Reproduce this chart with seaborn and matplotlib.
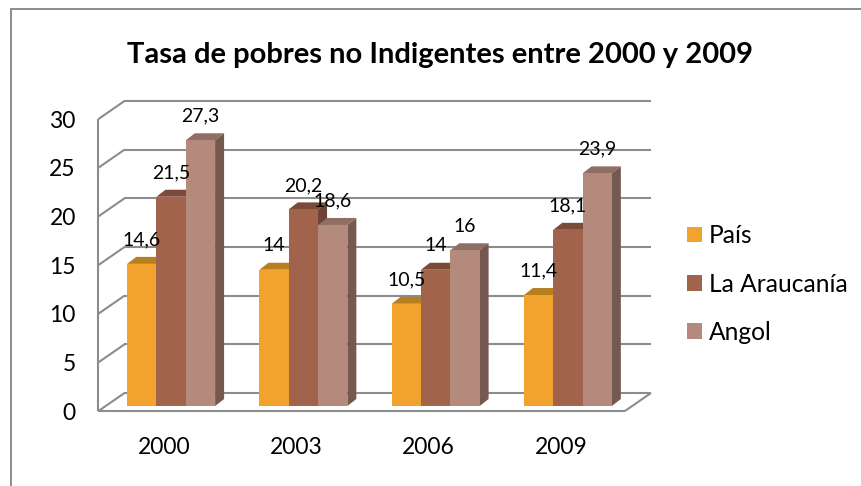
import matplotlib
matplotlib.use('Agg')
import matplotlib.pyplot as plt
import matplotlib.transforms as mtrans
from matplotlib.patches import Polygon, Rectangle
import pandas as pd
import seaborn as sns

years = ['2000', '2003', '2006', '2009']
pais = [14.6, 14, 10.5, 11.4]
araucania = [21.5, 20.2, 14, 18.1]
angol = [27.3, 18.6, 16, 23.9]
series_names = ['País', 'La Araucanía', 'Angol']
y_ticks = [0, 5, 10, 15, 20, 25, 30]

front_colors = ['#F2A32E', '#A2634D', '#B38A7C']
top_colors = ['#B67F20', '#7C4A39', '#8F6F64']
side_colors = ['#B67F20', '#6C4334', '#75584F']
grid_color = '#8C8C8C'

W, H = 862, 486

df = pd.DataFrame({'year': years, series_names[0]: pais, series_names[1]: araucania, series_names[2]: angol})
df = df.melt(id_vars='year', var_name='serie', value_name='valor')

sns.set_style('white')
plt.rcParams['font.family'] = ['Lato', 'DejaVu Sans']

fig = plt.figure(figsize=(W / 100, H / 100), dpi=100)
# only the top and left of the chart frame fall inside the picture
fig.add_artist(Rectangle((11 / W, -0.02), 1, 1 - 9 / H + 0.02, transform=fig.transFigure,
                         fill=False, ec='#8C8C8C', lw=1.4))
ax = fig.add_axes([105 / W, (H - 406) / H, 529 / W, 292 / H])
ax.patch.set_alpha(0)

sns.barplot(data=df, x='year', y='valor', hue='serie', hue_order=series_names, order=years,
            palette=front_colors, width=0.665, gap=0, saturation=1, legend=False, ax=ax, zorder=3,
            linewidth=0, edgecolor='none')
ax.set_xlim(-0.5, 3.5)
ax.set_ylim(0, 30)
ax.set_xlabel('')
ax.set_ylabel('')
sns.despine(ax=ax, left=True, bottom=True)

# one pixel in data units, the fake 3d is all built from these
px = 1 / (529 / 4)
py = 30 / 292

# walls: front corner, back corner
fx, fy = -6.5 * px, -5 * py
bx, by = 19.5 * px, 13 * py
xl, xr = -0.5, 3.5 - 2.5 * px
wall = dict(color=grid_color, lw=1.5, clip_on=False, zorder=1, solid_capstyle='butt')
for t in y_ticks:
    ax.plot([xl + fx, xl + bx], [t + fy, t + by], **wall)
    ax.plot([xl + bx, xr + bx], [t + by, t + by], **wall)
ax.plot([xl + fx, xl + fx], [fy, 30 + fy], **wall)
ax.plot([xl + fx, xr + fx], [fy, fy], **wall)
ax.plot([xr + fx, xr + bx], [fy, by], **wall)

# depth of the bars
dx, dy = 9 * px, 7 * py
for i, cont in enumerate(ax.containers):
    for j, bar in enumerate(cont):
        x0 = bar.get_x()
        x1 = x0 + bar.get_width()
        h = bar.get_height()
        z = 2 + 0.1 * (i + 1) + j
        bar.set_zorder(z + 0.02)
        ax.add_patch(Polygon([(x0, h), (x1, h), (x1 + dx, h + dy), (x0 + dx, h + dy)],
                             fc=top_colors[i], ec='none', clip_on=False, zorder=z))
        ax.add_patch(Polygon([(x1, 0), (x1, h), (x1 + dx, h + dy), (x1 + dx, dy)],
                             fc=side_colors[i], ec='none', clip_on=False, zorder=z))
        ax.annotate(('%g' % h).replace('.', ','), (x0 + bar.get_width() / 2, h),
                    xytext=(0, 24 * 0.72), textcoords='offset points', ha='center', va='center',
                    fontsize=14, color='black', zorder=20, annotation_clip=False)

ax.set_yticks(y_ticks)
ax.set_xticks(range(len(years)), years)
ax.tick_params(axis='both', length=0, labelsize=16.5, labelcolor='black')
ax.tick_params(axis='y', pad=21)
ax.tick_params(axis='x', pad=22)
for lab in ax.get_yticklabels():
    lab.set_transform(lab.get_transform() + mtrans.ScaledTranslation(0, -5 / 100, fig.dpi_scale_trans))
for lab in ax.get_xticklabels():
    lab.set_transform(lab.get_transform() + mtrans.ScaledTranslation(-7 / 100, 0, fig.dpi_scale_trans))

handles = [Rectangle((0, 0), 1, 1, fc=c, ec='none') for c in front_colors]
fig.legend(handles, series_names, loc='center left', bbox_to_anchor=(687 / W, (H - 284) / H),
           frameon=False, fontsize=17.7, labelspacing=1.03, handlelength=0.61, handleheight=0.61,
           handletextpad=0.28, borderpad=0, borderaxespad=0, labelcolor='black')

fig.text(440.5 / W, (H - 55) / H, 'Tasa de pobres no Indigentes entre 2000 y 2009', ha='center', va='center',
         fontsize=21, fontweight='bold', color='black')

fig.savefig('out.png', dpi=100)
